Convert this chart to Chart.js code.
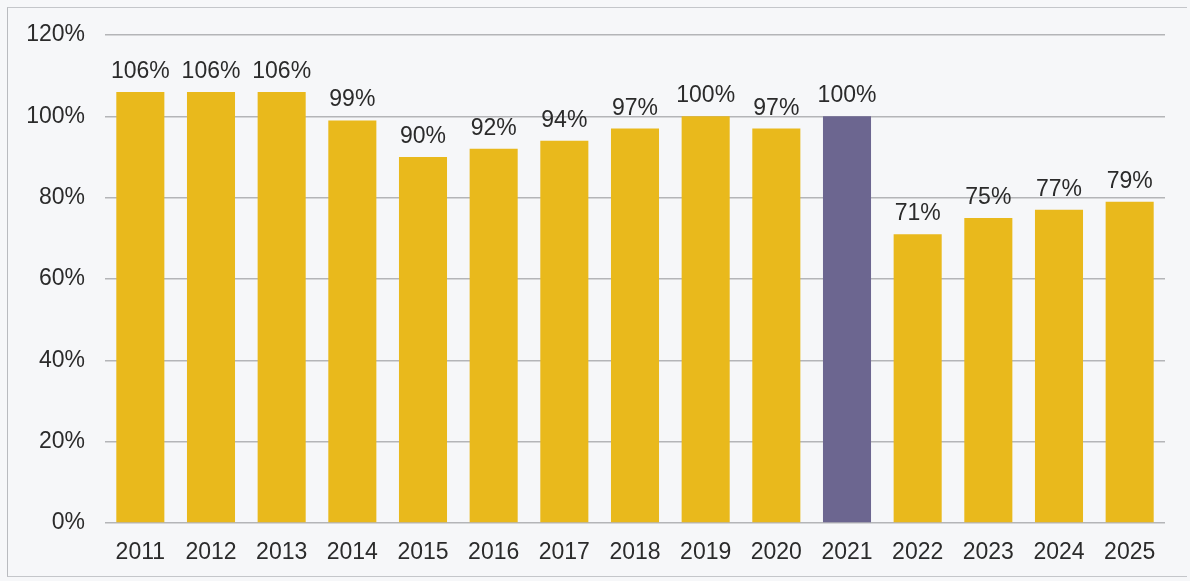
<!DOCTYPE html>
<html>
<head>
<meta charset="utf-8">
<title>Bars 2011-2025</title>
<script src="https://cdn.jsdelivr.net/npm/chart.js@4/dist/chart.umd.min.js"></script>
<style>
    html, body { margin: 0; padding: 0; background: #f6f7f9; }
    #wrap { position: relative; width: 1190px; height: 581px; }
    #frame {
        position: absolute; left: 7px; top: 7px; width: 1180px; height: 570px;
        border-left: 1px solid #b9bbbf; border-top: 1px solid #c4c6ca; border-bottom: 1px solid #c4c6ca;
        box-sizing: border-box; pointer-events: none;
    }
    canvas { position: absolute; left: 0; top: 0; }
</style>
</head>
<body>
<div id="wrap">
    <canvas id="myChart" width="1190" height="581"></canvas>
    <div id="frame"></div>
</div>
<script>
var years = ['2011', '2012', '2013', '2014', '2015', '2016', '2017', '2018', '2019', '2020', '2021', '2022', '2023', '2024', '2025'];
var values = [106, 106, 106, 99, 90, 92, 94, 97, 100, 97, 100, 71, 75, 77, 79];
var yTicks = [0, 20, 40, 60, 80, 100, 120];
var highlightYear = '2021';

var yellow = '#e9b91c';
var purple = '#6c6690';
var fontFamily = '"Liberation Sans", Arial, sans-serif';

// value labels above every bar
var barLabels = {
    id: 'barLabels',
    afterDatasetsDraw: function(chart) {
        var ctx = chart.ctx;
        var meta = chart.getDatasetMeta(0);
        ctx.save();
        ctx.font = '23px ' + fontFamily;
        ctx.fillStyle = '#2b2b2b';
        ctx.textAlign = 'center';
        ctx.textBaseline = 'alphabetic';
        meta.data.forEach(function(bar, i) {
            ctx.fillText(values[i] + '%', bar.x, bar.y - 14);
        });
        ctx.restore();
    }
};

var ctx = document.getElementById('myChart').getContext('2d');
var myChart = new Chart(ctx, {
    type: 'bar',
    data: {
        labels: years,
        datasets: [{
            data: values,
            backgroundColor: years.map(function(y) { return y == highlightYear ? purple : yellow; }),
            borderWidth: 0,
            categoryPercentage: 1,
            barPercentage: 0.68
        }]
    },
    options: {
        responsive: false,
        animation: false,
        layout: { padding: { top: 35, right: 25, left: 0, bottom: 0 } },
        plugins: {
            legend: { display: false },
            tooltip: { enabled: false }
        },
        scales: {
            x: {
                grid: { display: false },
                border: { display: false },
                ticks: {
                    color: '#2b2b2b',
                    padding: 8,
                    font: { family: fontFamily, size: 23 }
                },
                afterFit: function(scale) { scale.height = 58; }
            },
            y: {
                min: 0,
                max: 120,
                afterBuildTicks: function(scale) {
                    scale.ticks = yTicks.map(function(v) { return { value: v }; });
                },
                grid: { color: '#b4b5b8', lineWidth: 1.5, drawTicks: false },
                border: { display: false },
                ticks: {
                    color: '#2b2b2b',
                    padding: 20,
                    font: { family: fontFamily, size: 23 },
                    callback: function(v) { return v + '%'; }
                },
                afterFit: function(scale) { scale.width = 105; }
            }
        }
    },
    plugins: [barLabels]
});
</script>
</body>
</html>
